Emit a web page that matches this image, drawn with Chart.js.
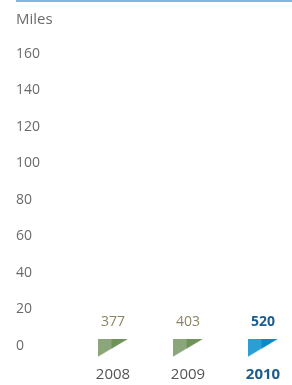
<!DOCTYPE html>
<html>
<head>
<meta charset="utf-8">
<script src="https://cdn.jsdelivr.net/npm/chart.js@4/dist/chart.umd.min.js"></script>
<style>
  html, body { margin: 0; padding: 0; background: #fff; }
  #wrap { position: relative; width: 292px; height: 385px; }
  #topRule { position: absolute; left: 16px; top: 0; width: 276px; height: 2px; background: #7db8da; }
</style>
</head>
<body>
<div id="wrap">
  <div id="topRule"></div>
  <canvas id="milesChart" width="292" height="385"></canvas>
</div>
<script>
// data
const years = ['2008', '2009', '2010'];
const miles = [377, 403, 520];
const markerLevel = [0, 0, 0];   // markers sit on the zero line
const yMin = 0, yMax = 160, yStep = 20;

const grey = '#6b6b6b';
const olive = '#8b8462';
const navy = '#1b5d8f';

// wedge-shaped marker, light left half and darker right half
function makeWedge(light, dark) {
    const c = document.createElement('canvas');
    c.width = 31;
    c.height = 28;
    const g = c.getContext('2d');
    const top = 7, h = 18, w = 30, split = 14;
    g.beginPath();
    g.moveTo(0, top);
    g.lineTo(w, top);
    g.lineTo(0, top + h);
    g.closePath();
    g.fillStyle = light;
    g.fill();
    g.save();
    g.clip();
    g.fillStyle = dark;
    g.fillRect(split, 0, w, c.height);
    g.restore();
    return c;
}

const wedges = [
    makeWedge('#8ba67b', '#6f9258'),
    makeWedge('#8ba67b', '#6f9258'),
    makeWedge('#2b9fd3', '#0e89c7')
];

// value labels above each marker
const valueLabels = {
    id: 'valueLabels',
    afterDatasetsDraw(chart) {
        const ctx = chart.ctx;
        const meta = chart.getDatasetMeta(0);
        ctx.save();
        ctx.textAlign = 'center';
        ctx.textBaseline = 'middle';
        meta.data.forEach((pt, i) => {
            const last = i === miles.length - 1;
            ctx.font = (last ? 'bold ' : '') + '14px "Open Sans"';
            ctx.fillStyle = last ? navy : olive;
            ctx.fillText(String(miles[i]), pt.x, pt.y - 24);
        });
        ctx.restore();
    }
};

new Chart(document.getElementById('milesChart'), {
    type: 'line',
    data: {
        labels: years,
        datasets: [{
            label: 'Miles',
            data: markerLevel,
            showLine: false,
            pointStyle: (ctx) => wedges[ctx.dataIndex],
            clip: false
        }]
    },
    options: {
        responsive: false,
        animation: false,
        events: [],
        layout: { padding: { left: 16, right: 29, top: 0, bottom: 0 } },
        plugins: {
            legend: { display: false },
            tooltip: { enabled: false },
            title: {
                display: true,
                text: 'Miles',
                align: 'start',
                color: grey,
                font: { family: 'Open Sans', size: 15, weight: 'normal' },
                padding: { top: 11, bottom: 25 }
            }
        },
        scales: {
            x: {
                offset: false,
                grid: { display: false, drawTicks: false },
                border: { display: false },
                ticks: {
                    padding: 20,
                    color: (ctx) => ctx.index === 2 ? navy : '#555',
                    font: (ctx) => ({ family: 'Open Sans', size: 15, weight: ctx.index === 2 ? 'bold' : 'normal' })
                },
                afterFit: (scale) => {
                    scale.height = 39;
                    scale.paddingLeft = 0;
                    scale.paddingRight = 0;
                }
            },
            y: {
                min: yMin,
                max: yMax,
                grid: { display: false, drawTicks: false },
                border: { display: false },
                ticks: {
                    stepSize: yStep,
                    padding: 0,
                    crossAlign: 'far',
                    color: grey,
                    font: { family: 'Open Sans', size: 14 }
                },
                afterFit: (scale) => { scale.width = 97; }
            }
        }
    },
    plugins: [valueLabels]
});
</script>
</body>
</html>
